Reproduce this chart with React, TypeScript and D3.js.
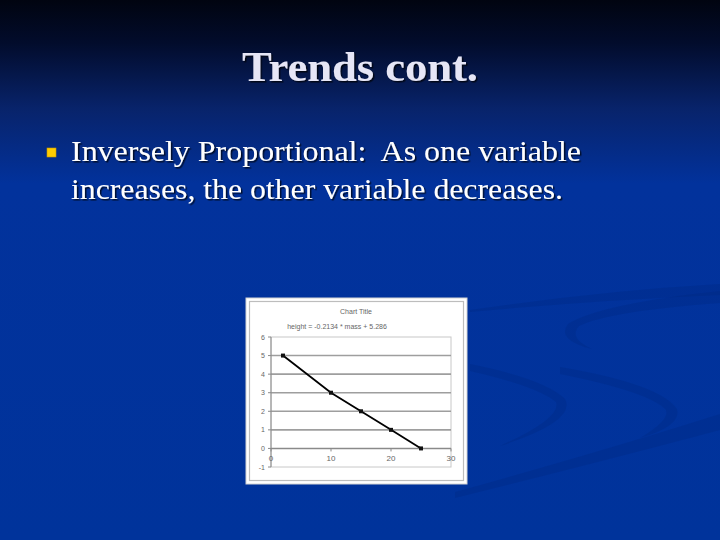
import React from "react";
import * as d3 from "d3";

const massValues = [2, 10, 15, 20, 25];
const heightValues = [5, 3, 2, 1, 0];
const xTicks = [0, 10, 20, 30];
const yTicks = [-1, 0, 1, 2, 3, 4, 5, 6];
const titleText = "Trends cont.";
const bulletLines = [
  "Inversely Proportional:  As one variable",
  "increases, the other variable decreases.",
];
const chartTitle = "Chart Title";
const equationText = "height = -0.2134 * mass + 5.286";

const swooshes = [
  "M470,310 Q600,291 720,284 L720,295 Q600,300 470,312 Z",
  "M720,291 Q600,304 568,324 Q556,340 592,349 Q568,338 579,326 Q610,311 720,303 Z",
  "M470,364 Q545,379 565,399 Q577,421 500,446 Q562,418 556,402 Q536,386 470,371 Z",
  "M560,367 Q660,384 677,409 Q682,426 640,438 Q670,420 666,410 Q650,392 560,374 Z",
  "M455,492 Q600,452 720,414 L720,430 Q600,462 455,498 Z",
];

const serif = "'Liberation Serif', 'Times New Roman', Times, serif";
const sans = "'Liberation Sans', Arial, sans-serif";

export default function App() {
  const x = d3.scaleLinear().domain([0, 30]).range([271, 451]);
  const y = d3.scaleLinear().domain([-1, 6]).range([467, 337]);
  const pts: [number, number][] = massValues.map((m, i) => [m, heightValues[i]]);
  const line = d3
    .line<[number, number]>()
    .x((d) => x(d[0]))
    .y((d) => y(d[1]));

  return (
    <svg
      width={720}
      height={540}
      style={{ position: "absolute", left: 0, top: 0 }}
    >
      <defs>
        <linearGradient id="bg" x1="0" y1="0" x2="0" y2="1">
          <stop offset="0" stopColor="#010410" />
          <stop offset="0.08" stopColor="#020c2c" />
          <stop offset="0.2" stopColor="#08236a" />
          <stop offset="0.34" stopColor="#02329c" />
          <stop offset="1" stopColor="#00339b" />
        </linearGradient>
        <filter id="sh" x="-5%" y="-5%" width="110%" height="120%">
          <feDropShadow dx="1.5" dy="1.5" stdDeviation="0.5" floodColor="#000" floodOpacity="0.7" />
        </filter>
      </defs>
      <rect x={0} y={0} width={720} height={540} fill="url(#bg)" />
      {swooshes.map((d, i) => (
        <path key={i} d={d} fill="#00287f" opacity={0.3} />
      ))}

      <text
        x={360}
        y={81}
        textAnchor="middle"
        fontFamily={serif}
        fontWeight="bold"
        fontSize={43}
        fill="#e6e6f6"
        filter="url(#sh)"
        textLength={236}
        lengthAdjust="spacingAndGlyphs"
      >
        {titleText}
      </text>

      <rect x={47} y={148} width={9} height={9} fill="#ffcc00" stroke="#c89a00" strokeWidth={0.6} />
      {bulletLines.map((t, i) => (
        <text
          key={i}
          x={71}
          y={161 + i * 37.5}
          fontFamily={serif}
          fontSize={30}
          fill="#ffffff"
          filter="url(#sh)"
          textLength={i === 0 ? 510 : 492}
          lengthAdjust="spacingAndGlyphs"
          style={{ whiteSpace: "pre" }}
        >
          {t}
        </text>
      ))}

      {/* chart box */}
      <rect x={246} y={298} width={221} height={186} fill="#ffffff" stroke="#d4d4d4" strokeWidth={1} />
      <rect x={249.5} y={301.5} width={214} height={179} fill="none" stroke="#bdbdbd" strokeWidth={1.2} />

      <text x={356} y={314} textAnchor="middle" fontFamily={sans} fontSize={7} fill="#666">
        {chartTitle}
      </text>
      <text x={337} y={329} textAnchor="middle" fontFamily={sans} fontSize={7} fill="#666">
        {equationText}
      </text>

      {/* plot frame */}
      <rect x={x(0)} y={y(6)} width={x(30) - x(0)} height={y(-1) - y(6)} fill="#fff" stroke="#c8c8c8" strokeWidth={1} />
      {yTicks.filter((t) => t > -1 && t < 6).map((t) => (
        <line key={t} x1={x(0)} x2={x(30)} y1={y(t)} y2={y(t)} stroke={t === 0 ? "#8a8a8a" : "#9e9e9e"} strokeWidth={1.6} />
      ))}
      <line x1={x(0)} x2={x(0)} y1={y(6)} y2={y(-1)} stroke="#8a8a8a" strokeWidth={1} />
      {yTicks.map((t) => (
        <g key={t}>
          <line x1={x(0) - 3} x2={x(0)} y1={y(t)} y2={y(t)} stroke="#8a8a8a" strokeWidth={1} />
          <text x={x(0) - 6} y={y(t) + 2.5} textAnchor="end" fontFamily={sans} fontSize={7} fill="#666">
            {t}
          </text>
        </g>
      ))}
      {xTicks.map((t) => (
        <g key={t}>
          <line x1={x(t)} x2={x(t)} y1={y(0)} y2={y(0) + 3} stroke="#8a8a8a" strokeWidth={1} />
          <text x={x(t)} y={y(0) + 13} textAnchor="middle" fontFamily={sans} fontSize={8} fill="#666">
            {t}
          </text>
        </g>
      ))}

      <path d={line(pts) || ""} fill="none" stroke="#000" strokeWidth={1.8} />
      {pts.map((p, i) => (
        <rect key={i} x={x(p[0]) - 2} y={y(p[1]) - 2} width={4} height={4} fill="#111" />
      ))}
    </svg>
  );
}
